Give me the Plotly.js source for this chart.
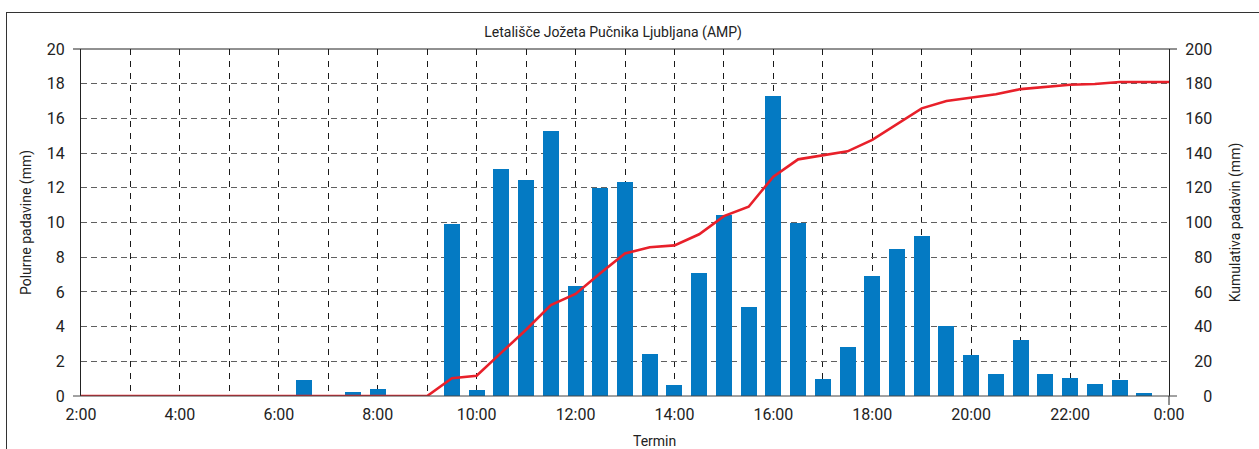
<!DOCTYPE html>
<html>
<head>
<meta charset="utf-8">
<script src="https://cdn.plot.ly/plotly-3.0.1.min.js"></script>
<style>
  html, body { margin: 0; padding: 0; background: #ffffff; }
  #frame { position: absolute; left: 6px; top: 12px; width: 1400px; height: 600px; border: 1px solid #333; box-sizing: border-box; }
  #chart { position: absolute; left: 0; top: 0; width: 1259px; height: 449px; }
</style>
</head>
<body>
<div id="frame"></div>
<div id="chart"></div>
<script>
// Half-hour terms (2:00 .. 0:00)
const times = [
  "02:00","02:30","03:00","03:30","04:00","04:30","05:00","05:30","06:00","06:30",
  "07:00","07:30","08:00","08:30","09:00","09:30","10:00","10:30","11:00","11:30",
  "12:00","12:30","13:00","13:30","14:00","14:30","15:00","15:30","16:00","16:30",
  "17:00","17:30","18:00","18:30","19:00","19:30","20:00","20:30","21:00","21:30",
  "22:00","22:30","23:00","23:30","00:00"
];
// Half-hourly precipitation (mm)
const halfHourRain = [
  0, 0, 0, 0, 0, 0, 0, 0, 0, 0.9,
  0, 0.25, 0.4, 0, 0, 9.9, 0.35, 13.1, 12.45, 15.3,
  6.35, 12.0, 12.35, 2.4, 0.65, 7.1, 10.45, 5.15, 17.3, 9.95,
  1.0, 2.8, 6.9, 8.5, 9.25, 4.05, 2.35, 1.25, 3.2, 1.25,
  1.05, 0.7, 0.95, 0.2, 0
];
// Cumulative precipitation (mm)
const cumulativeRain = [
  0, 0, 0, 0, 0, 0, 0, 0, 0, 0,
  0, 0, 0, 0, 0, 10.2, 11.7, 25.0, 38.2, 52.4,
  58.8, 70.7, 82.2, 85.7, 86.8, 93.2, 103.7, 109.1, 126.4, 136.4,
  138.5, 141.0, 147.6, 156.8, 165.8, 170.0, 171.9, 173.9, 176.9, 178.3,
  179.4, 179.8, 181.0, 181.0, 181.0
];
const leftTicks = [0, 2, 4, 6, 8, 10, 12, 14, 16, 18, 20];
const rightTicks = [0, 20, 40, 60, 80, 100, 120, 140, 160, 180, 200];
const rightTickLabels = ["\u2007\u20070", "\u200720", "\u200740", "\u200760", "\u200780", "100", "120", "140", "160", "180", "200"];

const titleText = "Letališče Jožeta Pučnika Ljubljana (AMP)";
const xTitle = "Termin";
const yTitle = "Polurne padavine (mm)";
const y2Title = "Kumulativa padavin (mm)";

const day1 = "2024-01-01";
const day2 = "2024-01-02";
const xs = times.map(t => (t === "00:00" ? day2 : day1) + " " + t);

const FONT = "Roboto, 'Liberation Sans', Arial, sans-serif";
const TXT = "#222";

const bars = {
  type: "bar",
  x: xs,
  y: halfHourRain,
  width: 1160000,
  marker: { color: "#047AC3", line: { width: 0 } },
  yaxis: "y",
  hoverinfo: "x+y",
  showlegend: false
};
const line = {
  type: "scatter",
  mode: "lines",
  x: xs,
  y: cumulativeRain,
  line: { color: "#E8202A", width: 2.6 },
  yaxis: "y2",
  showlegend: false
};

const layout = {
  width: 1259,
  height: 449,
  margin: { l: 81, r: 90, t: 49, b: 53, pad: 0 },
  paper_bgcolor: "rgba(0,0,0,0)",
  plot_bgcolor: "#ffffff",
  font: { family: FONT, color: TXT, size: 14 },
  showlegend: false,
  bargap: 0,
  title: {
    text: titleText,
    font: { family: FONT, size: 14, color: TXT },
    xref: "container", x: 0.487, xanchor: "center",
    yref: "container", y: 1 - 32 / 449, yanchor: "middle"
  },
  xaxis: {
    type: "date",
    range: [day1 + " 02:00", day2 + " 00:00"],
    tick0: day1 + " 02:00",
    dtick: 7200000,
    tickformat: "%-H:%M",
    tickfont: { family: FONT, size: 16, color: TXT },
    ticks: "",
    ticklabelstandoff: 7,
    showgrid: true,
    gridcolor: "#1a1a1a",
    gridwidth: 1,
    griddash: "6px,6px",
    minor: { dtick: 3600000, showgrid: true, gridcolor: "#1a1a1a", gridwidth: 1, griddash: "6px,6px", ticks: "" },
    showline: false,
    zeroline: false,
    fixedrange: true
  },
  yaxis: {
    range: [0, 20],
    tickvals: leftTicks,
    tickfont: { family: FONT, size: 16, color: TXT },
    ticks: "",
    ticklabelstandoff: 12,
    showgrid: true,
    gridcolor: "#606060",
    gridwidth: 1,
    griddash: "6px,4px",
    showline: true,
    linecolor: "#222",
    linewidth: 1,
    zeroline: false,
    title: { text: yTitle, font: { family: FONT, size: 14, color: TXT }, standoff: 11 },
    fixedrange: true
  },
  yaxis2: {
    overlaying: "y",
    side: "right",
    range: [0, 200],
    tickvals: rightTicks,
    ticktext: rightTickLabels,
    tickfont: { family: FONT, size: 16, color: TXT },
    ticks: "",
    ticklabelstandoff: 12,
    showgrid: false,
    showline: true,
    linecolor: "#222",
    linewidth: 1,
    zeroline: false,
    title: { text: y2Title, font: { family: FONT, size: 14, color: TXT }, standoff: 19 },
    fixedrange: true
  },
  annotations: [
    {
      text: xTitle, showarrow: false,
      xref: "paper", yref: "paper",
      x: (654 - 81) / 1088, y: (396 - 441) / 347,
      xanchor: "center", yanchor: "middle",
      font: { family: FONT, size: 14, color: TXT }
    }
  ],
  shapes: [
    { type: "line", xref: "paper", yref: "paper", x0: -8 / 1088, x1: 1 + 8 / 1088, y0: 1, y1: 1, line: { color: "#222", width: 1 }, layer: "above" },
    { type: "line", xref: "paper", yref: "paper", x0: -8 / 1088, x1: 1 + 8 / 1088, y0: 0, y1: 0, line: { color: "#444", width: 1 }, layer: "above" },
    { type: "line", xref: "paper", yref: "paper", x0: 1, x1: 1, y0: -9 / 347, y1: 0, line: { color: "#222", width: 1 }, layer: "above" }
  ]
};

Plotly.newPlot("chart", [bars, line], layout, { staticPlot: true, displayModeBar: false });
</script>
</body>
</html>
